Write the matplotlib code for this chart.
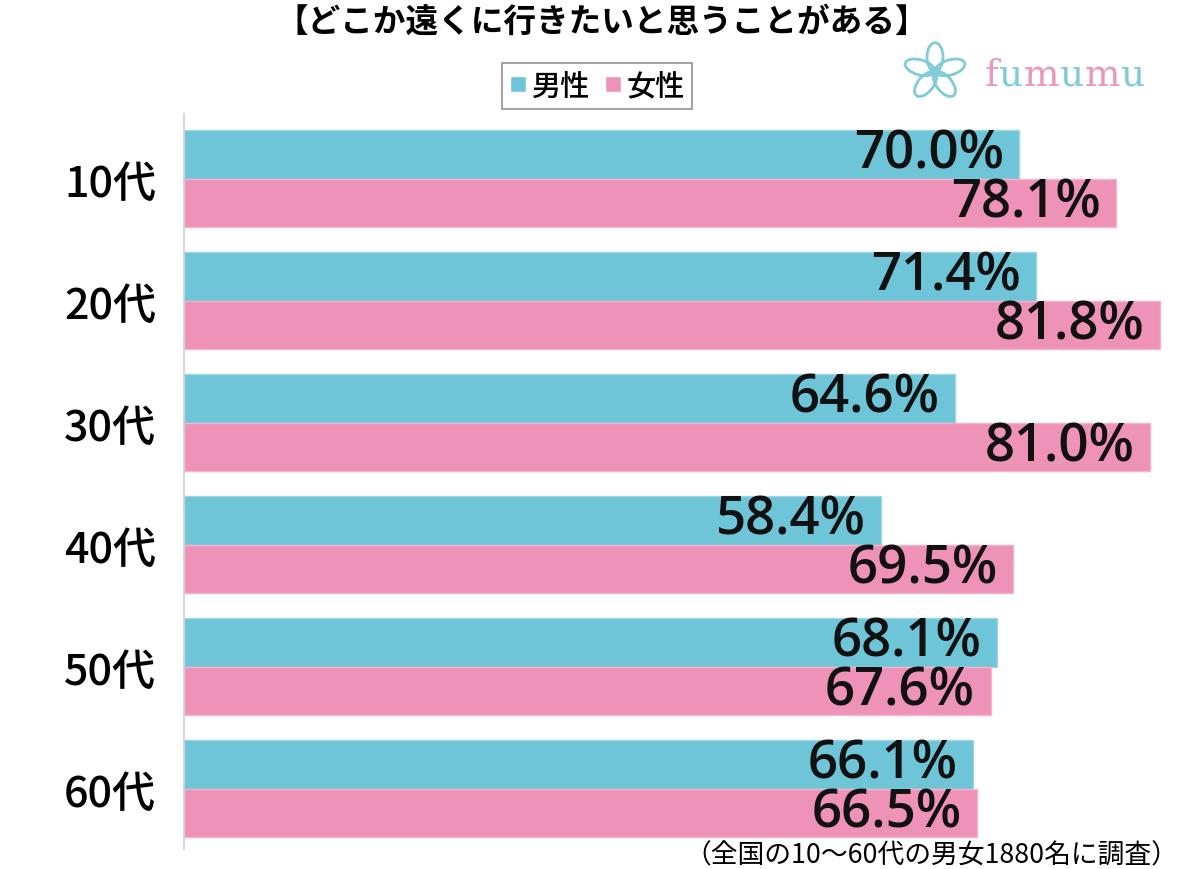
import matplotlib
matplotlib.use("Agg")
import matplotlib.pyplot as plt
from matplotlib.patches import Ellipse
from matplotlib.lines import Line2D
import numpy as np

plt.rcParams['font.family'] = ['Noto Sans CJK JP', 'DejaVu Sans']

title = "【どこか遠くに行きたいと思うことがある】"
categories = ["10代", "20代", "30代", "40代", "50代", "60代"]
series_names = ["男性", "女性"]
male = [70.0, 71.4, 64.6, 58.4, 68.1, 66.1]
female = [78.1, 81.8, 81.0, 69.5, 67.6, 66.5]
footnote = "（全国の10～60代の男女1880名に調査）"
colors = ["#6ec5d8", "#ef92b8"]
edgecolors = ["#9ed6e3", "#f4b3cc"]

W, H = 1200, 870
fig = plt.figure(figsize=(W / 100, H / 100), dpi=100)

ax_left, ax_right, ax_top, ax_bottom = 184, 1185, 115, 850
ax = fig.add_axes([ax_left / W, 1 - ax_bottom / H, (ax_right - ax_left) / W, (ax_bottom - ax_top) / H])

px_per_unit = 11.932
ax.set_xlim(0, (ax_right - ax_left) / px_per_unit)
spacing = 122.0
top_off = (179.5 - ax_top) / spacing
ax.set_ylim(-top_off + (ax_bottom - ax_top) / spacing, -top_off)

bh = 48.5 / spacing
y = np.arange(len(categories))
for vals, off, c, ec in [(male, -bh / 2, colors[0], edgecolors[0]), (female, bh / 2, colors[1], edgecolors[1])]:
    ax.barh(y + off, vals, height=bh, color=c, edgecolor=ec, linewidth=1.0)
    for yi, v in zip(y + off, vals):
        ax.text(v - 1.3, yi + 0.0, f"{v:.1f}%", ha="right", va="center",
                fontsize=38, color="#111111", fontfamily=["Open Sans", "DejaVu Sans"], fontweight="semibold")

ax.set_yticks(y)
ax.set_yticklabels(categories, fontsize=31, fontweight="medium")
ax.tick_params(axis="y", length=0, pad=20)
ax.set_xticks([])
for s in ["top", "right", "bottom"]:
    ax.spines[s].set_visible(False)
ax.spines["left"].set_color("#d0d0d0")
ax.spines["left"].set_linewidth(1.2)

fig.text(602 / W, 1 - 22 / H, title, ha="center", va="center", fontsize=23.5, fontweight="bold")

# legend
handles = [Line2D([0], [0], marker="s", color="w", markerfacecolor=colors[i], markersize=11, linestyle="None")
           for i in range(2)]
leg = fig.legend(handles, series_names, loc="center", bbox_to_anchor=(597 / W, 1 - 87 / H), ncol=2,
                 frameon=True, fancybox=False, edgecolor="#777777", handlelength=0.6,
                 handletextpad=0.15, columnspacing=0.5, borderpad=0.25, prop={"size": 21, "weight": "medium"})
leg.get_frame().set_linewidth(1.2)

fig.text(1178 / W, 1 - 856 / H, footnote, ha="right", va="center", fontsize=19.3)

# logo
logo_ax = fig.add_axes([903 / W, 1 - 106 / H, 64 / W, 66 / H])
logo_ax.set_xlim(-1, 1)
logo_ax.set_ylim(-1.1, 1.1)
logo_ax.axis("off")
for k in range(5):
    ang = 90 + k * 72
    r = 0.5
    cx, cy = r * np.cos(np.radians(ang)), r * np.sin(np.radians(ang))
    logo_ax.add_patch(Ellipse((cx, cy), 0.5, 0.95, angle=ang - 90, fill=False, edgecolor="#7fcbd8", linewidth=2))
logo_ax.add_patch(Ellipse((0, 0), 0.3, 0.3, fill=False, edgecolor="#7fcbd8", linewidth=1.5))

letters = "fumumu"
lcol = ["#e99abb", "#7fcbd8", "#e99abb", "#7fcbd8", "#e99abb", "#7fcbd8"]
renderer = fig.canvas.get_renderer()
xpos = 985.0
for ch, c in zip(letters, lcol):
    t = fig.text(xpos / W, 1 - 76 / H, ch, ha="left", va="center", fontsize=27, color=c,
                 fontfamily="DejaVu Serif")
    bb = t.get_window_extent(renderer)
    xpos += bb.width + 0.5

fig.savefig("out.png", dpi=100)
